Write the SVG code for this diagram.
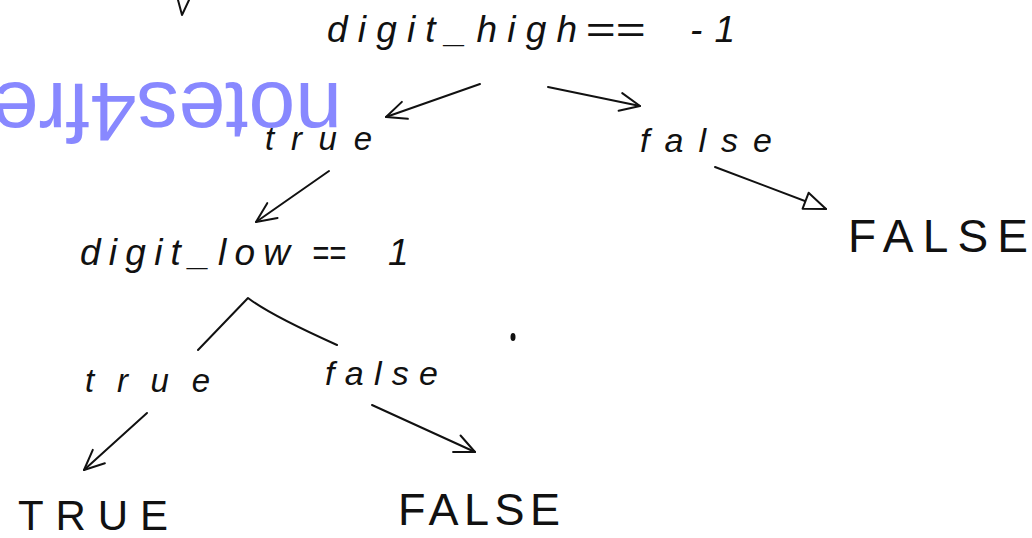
<svg xmlns="http://www.w3.org/2000/svg" width="1032" height="538" viewBox="0 0 1032 538">
<style>
.hw{font-family:"Liberation Sans",Arial,sans-serif;font-style:italic;fill:#111;}
.cap{font-family:"Liberation Sans",Arial,sans-serif;fill:#111;}
.ln{fill:none;stroke:#111;stroke-width:2;stroke-linecap:round;stroke-linejoin:round;}
.wm{font-family:"Liberation Sans",Arial,sans-serif;font-size:84px;fill:#8888ff;}
</style>
<defs>
<marker id="open" viewBox="-24 -12 26 24" markerWidth="26" markerHeight="24" refX="0" refY="0" orient="auto" markerUnits="userSpaceOnUse">
<path d="M-20,-9 L0,0 L-20,9" fill="none" stroke="#111" stroke-width="2" stroke-linecap="round" stroke-linejoin="round"/>
</marker>
<marker id="tri" viewBox="-26 -12 28 24" markerWidth="28" markerHeight="24" refX="0" refY="0" orient="auto" markerUnits="userSpaceOnUse">
<path d="M-22,-9 L0,0 L-22,8 Z" fill="#fff" stroke="#111" stroke-width="2" stroke-linejoin="round"/>
</marker>
</defs>
<rect width="1032" height="538" fill="#fff"/>
<g id="watermark">
<text class="wm" transform="translate(342,83) rotate(180)" x="0" y="0">notes4free</text>
</g>
<g id="fragment">
<path class="ln" d="M178,0 L182,15 L189,0" stroke-width="3"/>
<ellipse cx="513" cy="337" rx="2.5" ry="4" fill="#111"/>
</g>
<g id="connectors">
<path class="ln" d="M480,84 L386,117" marker-end="url(#open)"/>
<path class="ln" d="M548,87 L640,106" marker-end="url(#open)"/>
<path class="ln" d="M715,167 L826,209" marker-end="url(#tri)"/>
<path class="ln" d="M329,171 L256,222" marker-end="url(#open)"/>
<path class="ln" d="M198,350 L248,298 Q270,315 337,345"/>
<path class="ln" d="M147,413 L84,470" marker-end="url(#open)"/>
<path class="ln" d="M372,405 L475,452" marker-end="url(#open)"/>
</g>
<g id="node-digit-high">
<text class="hw" font-size="37" y="42"><tspan x="327" textLength="250" lengthAdjust="spacing">digit_high</tspan><tspan x="585" textLength="60" lengthAdjust="spacingAndGlyphs">==</tspan><tspan x="690" textLength="45" lengthAdjust="spacing">-1</tspan></text>
</g>
<g id="node-true-1">
<text class="hw" font-size="33" x="265" y="150" textLength="107" lengthAdjust="spacing">true</text>
</g>
<g id="node-false-1">
<text class="hw" font-size="34" x="640" y="152" textLength="132" lengthAdjust="spacing">false</text>
</g>
<g id="node-FALSE-1">
<text class="cap" font-size="46" x="848" y="252" textLength="180" lengthAdjust="spacing">FALSE</text>
</g>
<g id="node-digit-low">
<text class="hw" font-size="37" y="265"><tspan x="80" textLength="210" lengthAdjust="spacing">digit_low</tspan><tspan x="312" textLength="34" lengthAdjust="spacingAndGlyphs">==</tspan><tspan x="388">1</tspan></text>
</g>
<g id="node-true-2">
<text class="hw" font-size="33" x="85" y="392" textLength="125" lengthAdjust="spacing">true</text>
</g>
<g id="node-false-2">
<text class="hw" font-size="34" x="325" y="385" textLength="113" lengthAdjust="spacing">false</text>
</g>
<g id="node-TRUE">
<text class="cap" font-size="42" x="18" y="530" textLength="150" lengthAdjust="spacing">TRUE</text>
</g>
<g id="node-FALSE-2">
<text class="cap" font-size="45" x="398" y="525" textLength="162" lengthAdjust="spacing">FALSE</text>
</g>
</svg>
